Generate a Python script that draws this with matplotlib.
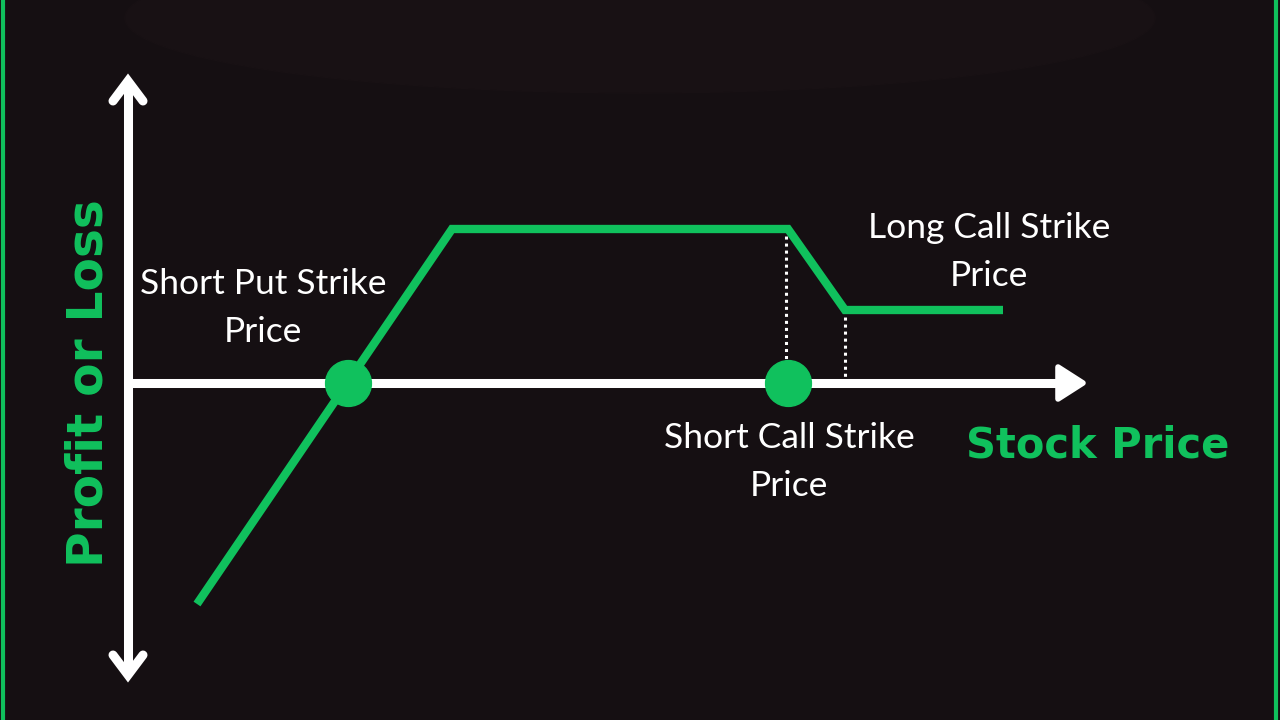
import numpy as np
import matplotlib.pyplot as plt
from matplotlib.lines import Line2D
from matplotlib.patches import Ellipse, Polygon

# payoff of the strategy (price units, P/L units)
price = [6.9, 32.4, 66.0, 71.7, 87.5]
pnl = [-22.1, 15.4, 15.4, 7.3, 7.3]

short_put_strike = 22.0
short_call_strike = 66.0
long_call_strike = 71.7
max_profit = 15.4
wing_level = 7.3

labels = ["Short Put Strike\nPrice", "Short Call Strike\nPrice", "Long Call Strike\nPrice"]
label_pos = [(13.5, 7.5), (66.1, -7.9), (86.1, 13.1)]

bg = '#150f12'
green = '#10c15d'
white = '#ffffff'
font = 'Lato'

fig = plt.figure(figsize=(12.8, 7.2), dpi=100, facecolor=bg)
ax = fig.add_axes([0, 0, 1, 1])
ax.set_facecolor(bg)
ax.set_xlim(-12.8, 115.2)
ax.set_ylim(-33.7, 38.3)
ax.axis('off')

# faint shadow at the top
ax.add_patch(Ellipse((51.2, 36.5), 103, 15, color='#181114', zorder=0))

# green frame edges
fig.add_artist(Line2D([0.0027, 0.0027], [0, 1], color=green, lw=3, transform=fig.transFigure))
fig.add_artist(Line2D([0.997, 0.997], [0, 1], color=green, lw=3, transform=fig.transFigure))

# y axis with open chevrons at both ends
ax.plot([0, 0], [-29.0, 30.0], color=white, lw=6.5, solid_capstyle='round', zorder=2)
ax.plot([-1.5, 0, 1.5], [28.2, 30.2, 28.2], color=white, lw=6.5,
        solid_capstyle='round', solid_joinstyle='miter', zorder=2)
ax.plot([-1.5, 0, 1.5], [-27.2, -29.2, -27.2], color=white, lw=6.5,
        solid_capstyle='round', solid_joinstyle='miter', zorder=2)

# x axis with filled arrow head
ax.plot([0, 93.5], [0, 0], color=white, lw=6.5, solid_capstyle='round', zorder=2)
ax.add_patch(Polygon([[93.0, 1.6], [95.5, 0], [93.0, -1.6]], closed=True,
                     facecolor=white, edgecolor=white, lw=4, joinstyle='round', zorder=2))

# dotted guides
ax.plot([short_call_strike - 0.2, short_call_strike - 0.2], [max_profit, 2.2],
        color=white, lw=2.2, linestyle=(0, (1, 1.3)), zorder=3)
ax.plot([long_call_strike, long_call_strike], [wing_level, 0.5],
        color=white, lw=2.2, linestyle=(0, (1, 1.3)), zorder=3)

# payoff line
ax.plot(price, pnl, color=green, lw=6, solid_joinstyle='miter', solid_capstyle='butt', zorder=4)

# strike dots
ax.plot([short_put_strike, short_call_strike], [0, 0], 'o', color=green, ms=33, zorder=5)

for txt, (x, y) in zip(labels, label_pos):
    ax.text(x, y, txt, color=white, fontsize=25.5, family=font, ha='center', va='center',
            linespacing=1.62, zorder=6)

ax.text(83.8, -6.3, "Stock Price", color=green, fontsize=30, family='DejaVu Sans',
        fontweight='bold', ha='left', va='center', zorder=6)
ax.text(-3.9, 0, "Profit or Loss", color=green, fontsize=35, family='DejaVu Sans',
        fontweight='bold', rotation=90, ha='center', va='center', zorder=6)

fig.savefig('out.png', dpi=100, facecolor=bg)
